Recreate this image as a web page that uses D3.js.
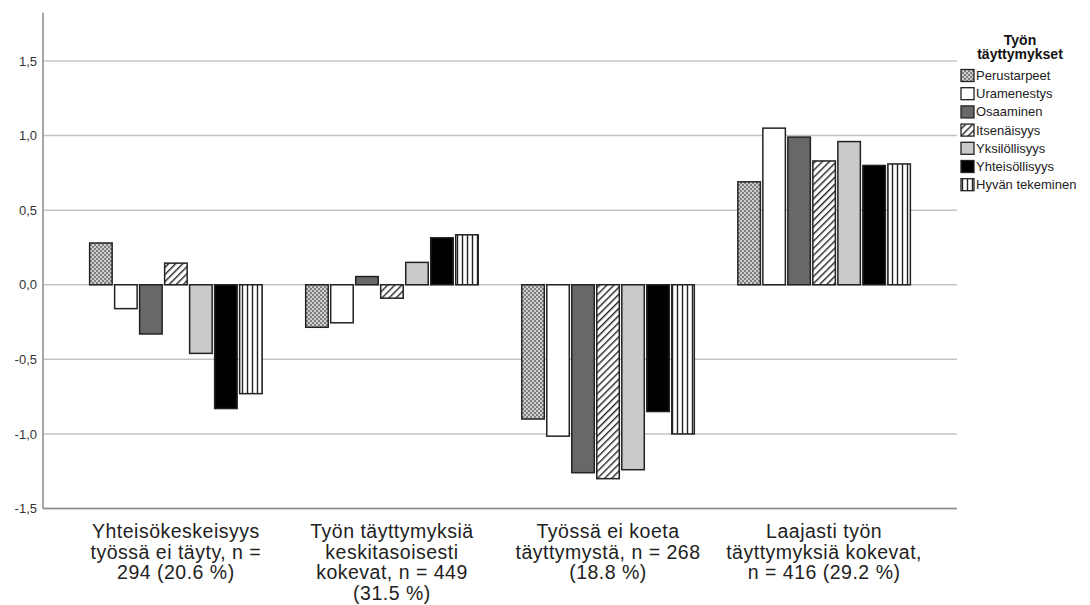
<!DOCTYPE html>
<html>
<head>
<meta charset="utf-8">
<script src="https://cdn.jsdelivr.net/npm/d3@7"></script>
<style>
  html, body { margin: 0; padding: 0; background: #fff; }
  svg { display: block; font-family: "Liberation Sans", Arial, sans-serif; }
</style>
</head>
<body>
<svg id="chart" width="1090" height="605"></svg>
<script>
// ---- data ----
const categories = ["g1", "g2", "g3", "g4"];
const categoryLabels = [
  ["Yhteisökeskeisyys", "työssä ei täyty, n =", "294 (20.6 %)"],
  ["Työn täyttymyksiä", "keskitasoisesti", "kokevat, n = 449", "(31.5 %)"],
  ["Työssä ei koeta", "täyttymystä, n = 268", "(18.8 %)"],
  ["Laajasti työn", "täyttymyksiä kokevat,", "n = 416 (29.2 %)"]
];
const seriesNames = ["Perustarpeet", "Uramenestys", "Osaaminen", "Itsenäisyys", "Yksilöllisyys", "Yhteisöllisyys", "Hyvän tekeminen"];
const perustarpeet   = [0.28, -0.285, -0.90, 0.69];
const uramenestys    = [-0.16, -0.255, -1.015, 1.05];
const osaaminen      = [-0.33, 0.055, -1.26, 0.99];
const itsenaisyys    = [0.145, -0.09, -1.30, 0.83];
const yksilollisyys  = [-0.46, 0.15, -1.24, 0.96];
const yhteisollisyys = [-0.83, 0.315, -0.85, 0.80];
const hyvanTekeminen = [-0.73, 0.335, -1.00, 0.81];
const seriesValues = [perustarpeet, uramenestys, osaaminen, itsenaisyys, yksilollisyys, yhteisollisyys, hyvanTekeminen];
const yTicks = [-1.5, -1.0, -0.5, 0.0, 0.5, 1.0, 1.5];
const yTickLabels = ["-1,5", "-1,0", "-0,5", "0,0", "0,5", "1,0", "1,5"];
const legendTitle = ["Työn", "täyttymykset"];

// ---- layout ----
const svg = d3.select("#chart");
const plotLeft = 43, plotRight = 957, plotTop = 12.7, plotBottom = 508.5;

const y = d3.scaleLinear().domain([-1.5, 1.824]).range([plotBottom, plotTop]);
const x0 = d3.scaleBand().domain(categories).range([plotLeft, plotRight]).paddingInner(0.19).paddingOuter(0.21);
const x1 = d3.scaleBand().domain(seriesNames).range([0, x0.bandwidth()]).paddingInner(0.1).paddingOuter(0.05);

// ---- patterns ----
const defs = svg.append("defs");
// checkered gray
const pCheck = defs.append("pattern").attr("id", "pat-check").attr("patternUnits", "userSpaceOnUse").attr("width", 4).attr("height", 4);
pCheck.append("rect").attr("width", 4).attr("height", 4).attr("fill", "#7f7f7f");
pCheck.append("rect").attr("x", 0).attr("y", 0).attr("width", 2).attr("height", 2).attr("fill", "#cfcfcf");
pCheck.append("rect").attr("x", 2).attr("y", 2).attr("width", 2).attr("height", 2).attr("fill", "#cfcfcf");
// diagonal hatch ////
const pDiag = defs.append("pattern").attr("id", "pat-diag").attr("patternUnits", "userSpaceOnUse").attr("width", 5).attr("height", 5).attr("patternTransform", "rotate(45)");
pDiag.append("rect").attr("width", 5).attr("height", 5).attr("fill", "#fff");
pDiag.append("line").attr("x1", 0).attr("y1", 0).attr("x2", 0).attr("y2", 5).attr("stroke", "#222").attr("stroke-width", 2.8);
// vertical stripes
const pVert = defs.append("pattern").attr("id", "pat-vert").attr("patternUnits", "userSpaceOnUse").attr("width", 5).attr("height", 5);
pVert.append("rect").attr("width", 5).attr("height", 5).attr("fill", "#fff");
pVert.append("line").attr("x1", 2.5).attr("y1", 0).attr("x2", 2.5).attr("y2", 5).attr("stroke", "#222").attr("stroke-width", 1.4);

const fills = ["url(#pat-check)", "#ffffff", "#686868", "url(#pat-diag)", "#cacaca", "#000000", "url(#pat-vert)"];

// ---- gridlines ----
svg.append("g").selectAll("line").data(yTicks).join("line")
  .attr("x1", plotLeft).attr("x2", plotRight)
  .attr("y1", d => y(d)).attr("y2", d => y(d))
  .attr("stroke", "#c4c4c4").attr("stroke-width", 1.5);

// ---- bars ----
const bars = [];
categories.forEach((c, ci) => {
  seriesNames.forEach((s, si) => {
    bars.push({ c, s, si, v: seriesValues[si][ci] });
  });
});
svg.append("g").selectAll("rect").data(bars).join("rect")
  .attr("x", d => x0(d.c) + x1(d.s))
  .attr("width", x1.bandwidth())
  .attr("y", d => Math.min(y(d.v), y(0)))
  .attr("height", d => Math.abs(y(d.v) - y(0)))
  .attr("fill", d => fills[d.si])
  .attr("stroke", "#222").attr("stroke-width", 1.5);

// ---- axes ----
svg.append("line").attr("x1", plotLeft).attr("x2", plotLeft).attr("y1", plotTop).attr("y2", plotBottom)
  .attr("stroke", "#8a8a8a").attr("stroke-width", 1.5);
svg.append("line").attr("x1", plotLeft).attr("x2", plotRight).attr("y1", plotBottom).attr("y2", plotBottom)
  .attr("stroke", "#8a8a8a").attr("stroke-width", 1.5);

const yAxis = d3.axisLeft(y).tickValues(yTicks).tickFormat((d, i) => yTickLabels[i]).tickSize(0).tickPadding(6);
const gy = svg.append("g").attr("transform", `translate(${plotLeft},0)`).call(yAxis);
gy.select(".domain").remove();
gy.selectAll("text").attr("font-size", 13).attr("fill", "#333").attr("font-family", "Liberation Sans, Arial, sans-serif");

// ---- category labels ----
const xl = svg.append("g");
categories.forEach((c, ci) => {
  const cx = x0(c) + x0.bandwidth() / 2;
  const t = xl.append("text").attr("text-anchor", "middle").attr("font-size", 19.5).attr("fill", "#222")
    .attr("letter-spacing", 0.5)
    .attr("x", cx).attr("y", 538);
  categoryLabels[ci].forEach((line, li) => {
    t.append("tspan").attr("x", cx).attr("dy", li === 0 ? 0 : 20.7).text(line);
  });
});

// ---- legend ----
const lg = svg.append("g");
legendTitle.forEach((line, i) => {
  lg.append("text").attr("x", 1020).attr("y", 45 + i * 14).attr("text-anchor", "middle")
    .attr("font-size", 14).attr("font-weight", "bold").attr("fill", "#111").text(line);
});
seriesNames.forEach((s, i) => {
  const cy = 75.5 + i * 18.2;
  lg.append("rect").attr("x", 961).attr("y", cy - 6).attr("width", 13).attr("height", 12)
    .attr("fill", fills[i]).attr("stroke", "#222").attr("stroke-width", 1.3);
  lg.append("text").attr("x", 976).attr("y", cy + 4.5).attr("font-size", 13).attr("fill", "#222").text(s);
});
</script>
</body>
</html>
